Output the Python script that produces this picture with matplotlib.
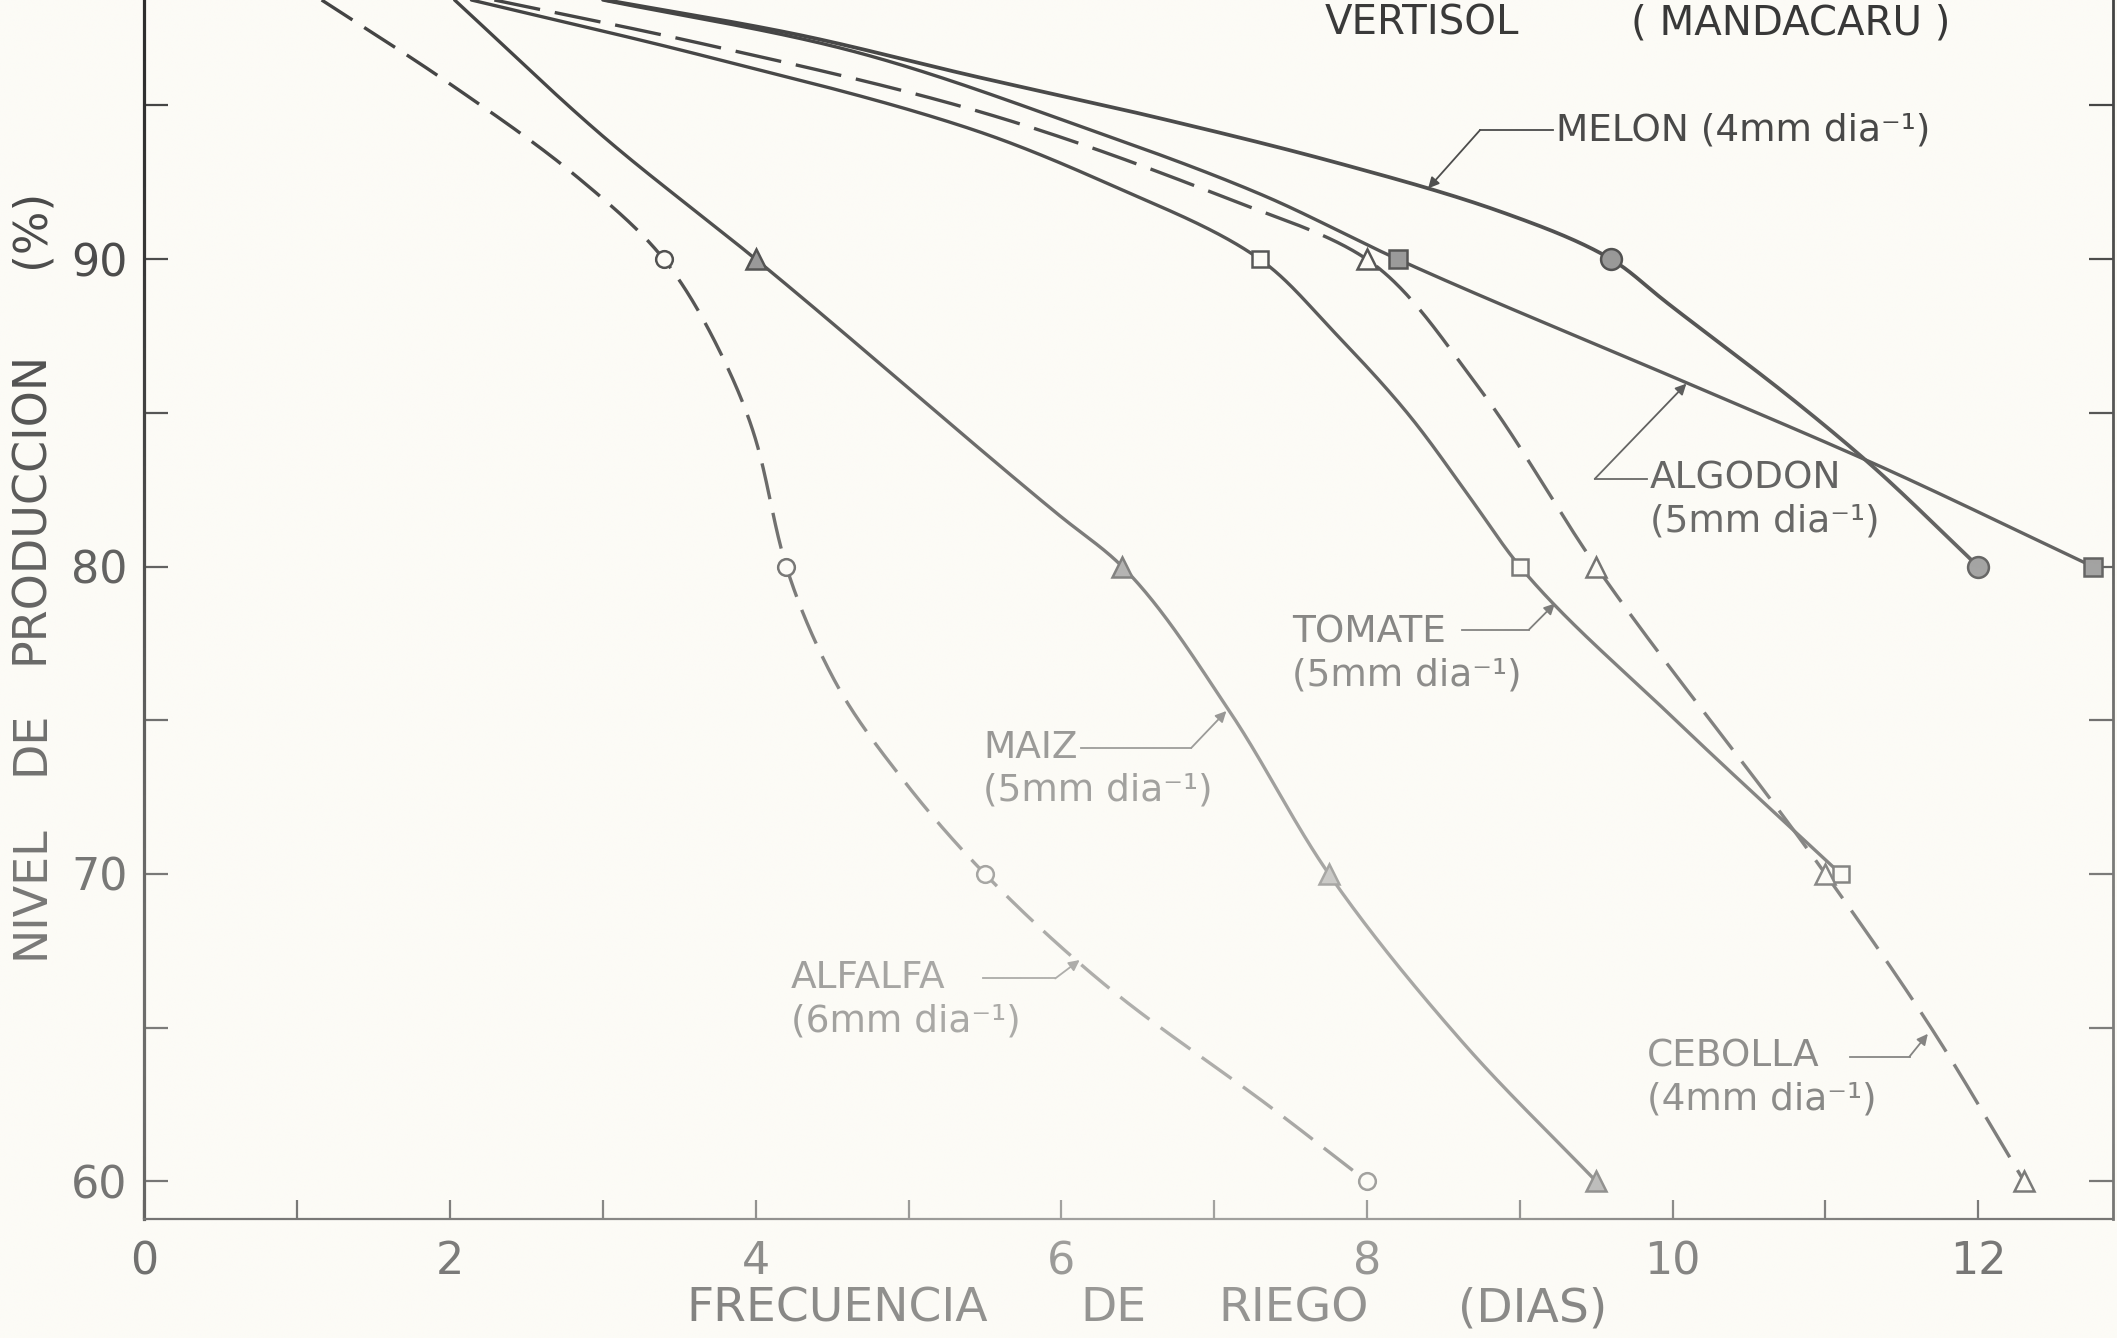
import numpy as np
import matplotlib
matplotlib.use("Agg")
import matplotlib.pyplot as plt
from matplotlib.colors import to_rgb

BG = "#fcfbf6"
INK = "#404040"
FILL = "#8e8e8e"
plt.rcParams["font.family"] = ["DejaVu Sans"]

# ---------------- data: production level (%) vs irrigation interval (days) ----
alfalfa_x = [1.16, 2.0, 2.85, 3.4, 3.72, 3.99, 4.2, 4.52, 4.99, 5.5, 6.26, 7.4, 8.0]
alfalfa_y = [98.43, 95.7, 92.6, 90.0, 87.45, 84.3, 80.0, 76.25, 72.9, 70.0, 66.5, 62.3, 60.0]
alfalfa_mx = [3.4, 4.2, 5.5, 8.0]
alfalfa_my = [90, 80, 70, 60]

maiz_x = [2.03, 3.0, 4.0, 5.99, 6.4, 7.1, 7.75, 8.63, 9.5]
maiz_y = [98.43, 94.0, 90.0, 81.65, 80.0, 75.3, 70.0, 64.5, 60.0]
maiz_mx = [4.0, 6.4, 7.75, 9.5]
maiz_my = [90, 80, 70, 60]

tomate_x = [2.14, 3.64, 5.43, 6.33, 7.3, 7.79, 8.28, 8.68, 9.0, 10.01, 11.1]
tomate_y = [98.43, 96.64, 94.2, 92.4, 90.0, 87.6, 84.9, 82.2, 80.0, 75.05, 70.0]
tomate_mx = [7.3, 9.0, 11.1]
tomate_my = [90, 80, 70]

cebolla_x = [2.29, 3.64, 5.43, 7.11, 8.0, 8.72, 9.5, 11.0, 11.71, 12.3]
cebolla_y = [98.43, 97.02, 94.85, 91.93, 90.0, 85.9, 80.0, 70.0, 64.85, 60.0]
cebolla_mx = [8.0, 9.5, 11.0, 12.3]
cebolla_my = [90, 80, 70, 60]

algodon_x = [3.0, 4.53, 6.25, 7.31, 8.2, 10.09, 11.34, 12.75]
algodon_y = [98.43, 96.9, 94.1, 92.1, 90.0, 85.98, 83.3, 80.0]
algodon_mx = [8.2, 12.75]
algodon_my = [90, 80]

melon_x = [3.02, 4.24, 5.43, 6.63, 7.83, 8.9, 9.6, 9.94, 10.82, 11.3, 12.0]
melon_y = [98.43, 97.34, 95.95, 94.6, 93.1, 91.5, 90.0, 88.67, 85.3, 83.3, 80.0]
melon_mx = [9.6, 12.0]
melon_my = [90, 80]

x_ticks = list(range(0, 13))
x_ticklabels = [str(v) if v % 2 == 0 else "" for v in x_ticks]
y_ticks = list(range(60, 100, 5))
y_ticklabels = [str(v) if v % 10 == 0 else "" for v in y_ticks]

# ---------------- helpers -------------------------------------------------------
PX_X, PX_Y = 113.2, 22.8   # rough screen scale, so the curve parameter is arc length


def _pchip_slopes(t, y):
    h = np.diff(t)
    d = np.diff(y) / h
    m = np.empty_like(y)
    m[0], m[-1] = d[0], d[-1]
    for k in range(1, len(y) - 1):
        if d[k - 1] * d[k] <= 0:
            m[k] = 0.0
        else:
            w1 = 2 * h[k] + h[k - 1]
            w2 = h[k] + 2 * h[k - 1]
            m[k] = (w1 + w2) / (w1 / d[k - 1] + w2 / d[k])
    return m


def _hermite(t, y, m, tn):
    i = np.clip(np.searchsorted(t, tn) - 1, 0, len(t) - 2)
    h = t[i + 1] - t[i]
    s = (tn - t[i]) / h
    return ((2 * s**3 - 3 * s**2 + 1) * y[i] + (s**3 - 2 * s**2 + s) * h * m[i]
            + (-2 * s**3 + 3 * s**2) * y[i + 1] + (s**3 - s**2) * h * m[i + 1])


def _soften(a, sig):
    # gaussian smoothing along the path; ends mirrored through the end points
    k = int(3 * sig) + 1
    w = np.exp(-0.5 * (np.arange(-k, k + 1) / sig) ** 2)
    w /= w.sum()
    pad = np.concatenate([2 * a[0] - a[k:0:-1], a, 2 * a[-1] - a[-2:-k - 2:-1]])
    return np.convolve(pad, w, mode="valid")


def smooth_path(xs, ys, n=900, soften_px=7.0):
    px = np.asarray(xs, float) * PX_X
    py = np.asarray(ys, float) * PX_Y
    t = np.concatenate([[0.0], np.cumsum(np.hypot(np.diff(px), np.diff(py)))])
    tn = np.linspace(0, t[-1], n)
    sx = _hermite(t, px, _pchip_slopes(t, px), tn)
    sy = _hermite(t, py, _pchip_slopes(t, py), tn)
    sig = soften_px / (t[-1] / (n - 1))
    sx, sy = _soften(sx, sig), _soften(sy, sig)
    return sx / PX_X, sy / PX_Y


def curve(ax, xs, ys, dashes=None, lw=2.4):
    sx, sy = smooth_path(xs, ys)
    kw = dict(color=INK, lw=lw, solid_capstyle="round", zorder=3, clip_on=True)
    if dashes:
        kw["dashes"] = dashes
    ax.plot(sx, sy, **kw)


def pointer(ax, text_lines, text_xy, corner_a, corner_b, tip, size=27, dy=1.4):
    tx, ty = text_xy
    for i, s in enumerate(text_lines):
        ax.text(tx, ty - i * dy, s, fontsize=size, color=INK, ha="left",
                va="center", zorder=5)
    ax.plot([corner_a[0], corner_b[0]], [corner_a[1], corner_b[1]],
            color=INK, lw=1.3, zorder=4)
    ax.annotate("", xy=tip, xytext=corner_b,
                arrowprops=dict(arrowstyle="-|>", color=INK, lw=1.3,
                                mutation_scale=16, shrinkA=0, shrinkB=0),
                zorder=4)


# ---------------- figure --------------------------------------------------------
fig = plt.figure(figsize=(21.17, 13.38), dpi=100, facecolor=BG)
ax = fig.add_axes([0.0682, 0.0888, 0.998 - 0.0682, 1.0 - 0.0888])
ax.set_facecolor(BG)
ax.set_xlim(0, 12.88)
ax.set_ylim(58.77, 98.43)

ax.spines["top"].set_visible(False)
ax.spines["left"].set_color("#2a2a2a")
ax.spines["left"].set_linewidth(2.3)
ax.spines["bottom"].set_color(INK)
ax.spines["bottom"].set_linewidth(1.6)
ax.spines["right"].set_color(INK)
ax.spines["right"].set_linewidth(2.0)

ax.set_xticks(x_ticks)
ax.set_xticklabels(x_ticklabels)
ax.set_yticks(y_ticks)
ax.set_yticklabels(y_ticklabels)
ax.tick_params(axis="x", direction="in", length=14, width=1.6, color=INK,
               labelsize=32, labelcolor=INK, pad=15)
ax.tick_params(axis="y", direction="in", length=17, width=1.6, color=INK,
               labelsize=32, labelcolor=INK, pad=12, right=True)

# curves
curve(ax, alfalfa_x, alfalfa_y, dashes=(11, 4.2))
curve(ax, maiz_x, maiz_y)
curve(ax, tomate_x, tomate_y)
curve(ax, cebolla_x, cebolla_y, dashes=(14, 4.5))
curve(ax, algodon_x, algodon_y)
curve(ax, melon_x, melon_y, lw=2.7)

# markers
mk = dict(linestyle="none", markeredgecolor=INK, markeredgewidth=1.8, zorder=6, clip_on=False)
ax.plot(alfalfa_mx, alfalfa_my, marker="o", ms=12, markerfacecolor=BG, **mk)
ax.plot(maiz_mx, maiz_my, marker="^", ms=15, markerfacecolor=FILL, **mk)
ax.plot(tomate_mx, tomate_my, marker="s", ms=12, markerfacecolor=BG, **mk)
ax.plot(cebolla_mx, cebolla_my, marker="^", ms=15, markerfacecolor=BG, **mk)
ax.plot(algodon_mx, algodon_my, marker="s", ms=13, markerfacecolor=FILL, **mk)
ax.plot(melon_mx, melon_my, marker="o", ms=15, markerfacecolor=FILL, **mk)

# crop labels with pointers
pointer(ax, ["ALFALFA", "(6mm dia⁻¹)"], (4.23, 66.6), (5.49, 66.6), (5.96, 66.6), (6.12, 67.2))
pointer(ax, ["MAIZ", "(5mm dia⁻¹)"], (5.49, 74.1), (6.13, 74.1), (6.85, 74.1), (7.08, 75.3))
pointer(ax, ["TOMATE", "(5mm dia⁻¹)"], (7.51, 77.85), (8.62, 77.95), (9.06, 77.95), (9.23, 78.8))
pointer(ax, ["CEBOLLA", "(4mm dia⁻¹)"], (9.83, 64.06), (11.16, 64.06), (11.55, 64.06), (11.67, 64.8))
pointer(ax, ["ALGODON", "(5mm dia⁻¹)"], (9.85, 82.85), (9.83, 82.85), (9.49, 82.85), (10.09, 85.95))
pointer(ax, ["MELON (4mm dia⁻¹)"], (9.24, 94.2), (9.22, 94.2), (8.74, 94.2), (8.4, 92.3))

ax.text(7.72, 97.67, "VERTISOL", fontsize=29, color="#333333", ha="left", va="center", zorder=5)
ax.text(9.73, 97.67, "( MANDACARU )", fontsize=29, color="#333333", ha="left", va="center", zorder=5)

# axis titles, word by word to keep the wide lettering
for word, fx in [("FRECUENCIA", 0.3954), ("DE", 0.526), ("RIEGO", 0.611), ("(DIAS)", 0.7239)]:
    fig.text(fx, 0.022, word, fontsize=34, color=INK, ha="center", va="center")
for word, fy in [("NIVEL", 0.333), ("DE", 0.445), ("PRODUCCION", 0.6206), ("(%)", 0.829)]:
    fig.text(0.0145, fy, word, fontsize=33, color=INK, ha="center", va="center", rotation=90)

# uneven toner of the printed sheet: lighter towards the lower middle
ov = fig.add_axes([0, 0, 1, 1], zorder=50)
ov.set_axis_off()
ov.set_facecolor("none")
u = np.linspace(0, 1, 420)
v = np.linspace(0, 1, 280)
U, V = np.meshgrid(u, v)
A = 0.6 * np.exp(-((V - 0.25) / 0.45) ** 2) * (0.5 + 0.5 * np.exp(-((U - 0.55) / 0.3) ** 2))
img = np.zeros(A.shape + (4,))
img[..., :3] = to_rgb(BG)
img[..., 3] = A
ov.imshow(img, extent=[0, 1, 0, 1], origin="lower", aspect="auto", interpolation="bilinear")
ov.set_xlim(0, 1)
ov.set_ylim(0, 1)

fig.savefig("out.png", dpi=100, facecolor=BG)
